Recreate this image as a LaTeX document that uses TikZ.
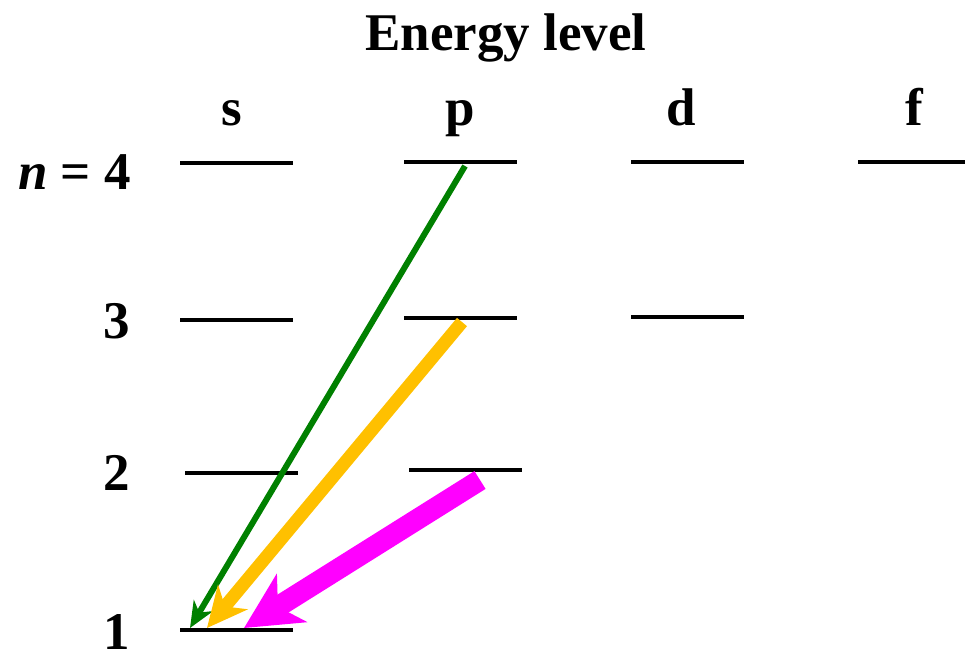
\documentclass[tikz,border=0pt]{standalone}
\usepackage{fontspec}
\setmainfont{Liberation Serif}
\usetikzlibrary{arrows.meta}
\definecolor{lvgreen}{HTML}{008000}
\definecolor{lvorange}{HTML}{FFC000}
\definecolor{lvmagenta}{HTML}{FF00FF}
\begin{document}
\begin{tikzpicture}[x=1pt,y=-1pt,
  lbl/.style={font=\fontsize{53}{60}\selectfont\bfseries, inner sep=0pt, anchor=base},
  level/.style={line width=4.5pt},
  trans/.style={line cap=butt}]
\useasboundingbox (0,0) rectangle (965,649);
% labels
\node[lbl] (title) at (506,50) {Energy level};
\node[lbl] (ls) at (232,125) {s};
\node[lbl] (lp) at (460,125) {p};
\node[lbl] (ld) at (681,125) {d};
\node[lbl] (lf) at (914,125) {f};
\node[lbl, anchor=base east] (n4) at (131,189) {\textit{n} = 4};
\node[lbl] (n3) at (117,338) {3};
\node[lbl] (n2) at (117,490) {2};
\node[lbl] (n1) at (117,649) {1};
% levels
\draw[level] (180,163) -- (293,163);
\draw[level] (180,320) -- (293,320);
\draw[level] (185,473) -- (298,473);
\draw[level] (180,630) -- (293,630);
\draw[level] (404,162) -- (517,162);
\draw[level] (404,318) -- (517,318);
\draw[level] (409,470) -- (522,470);
\draw[level] (631,162) -- (744,162);
\draw[level] (631,317) -- (744,317);
\draw[level] (858,162) -- (965,162);
% transition endpoints
\coordinate (g0) at (465,166);
\coordinate (g1) at (190,628);
\coordinate (o0) at (462,322);
\coordinate (o1) at (207,628);
\coordinate (m0) at (480,480);
\coordinate (m1) at (244,628);
% transitions
\draw[trans, lvgreen, line width=6pt, -{Stealth[length=26pt,width=22pt,inset=8pt]}] (g0) -- (g1);
\draw[trans, lvorange, line width=13pt, -{Stealth[length=40pt,width=38pt,inset=12pt]}] (o0) -- (o1);
\draw[trans, lvmagenta, line width=21pt, -{Stealth[length=56pt,width=56pt,inset=16pt]}] (m0) -- (m1);
\end{tikzpicture}
\end{document}
